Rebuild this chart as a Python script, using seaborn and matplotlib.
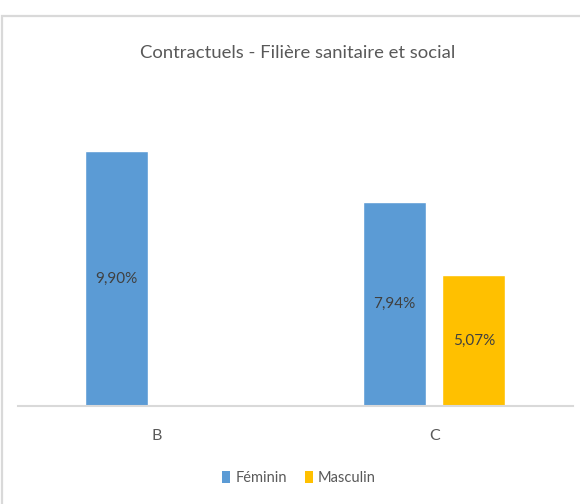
import matplotlib
matplotlib.use("Agg")
import matplotlib.pyplot as plt
from matplotlib.patches import Rectangle
import pandas as pd
import seaborn as sns

# Data
grades = ["B", "C"]
sexes = ["Féminin", "Masculin"]
feminin = [9.90, 7.94]
masculin = [None, 5.07]
title = "Contractuels - Filière sanitaire et social"
colors = ["#5B9BD5", "#FFC000"]

rows = []
for g, f, m in zip(grades, feminin, masculin):
    rows.append({"grade": g, "sexe": sexes[0], "valeur": f})
    rows.append({"grade": g, "sexe": sexes[1], "valeur": m})
df = pd.DataFrame(rows)

sns.set_theme(style="white")
plt.rcParams["font.family"] = ["Lato", "DejaVu Sans"]

W, H = 580, 504
fig = plt.figure(figsize=(W / 100, H / 100), dpi=100)

# chart frame
fig.patches.append(Rectangle((1.5 / W, -0.1), 1.2, (H - 15.5) / H + 0.1,
                             transform=fig.transFigure, fill=False,
                             edgecolor="#D9D9D9", linewidth=1.6, zorder=0))

ax = fig.add_axes([17.75 / W, 98.5 / H, (573 - 17.75) / W, 308 / H])
sns.barplot(data=df, x="grade", y="valeur", hue="sexe", order=grades,
            hue_order=sexes, palette=colors, width=0.573, gap=0.208,
            saturation=1, ax=ax, legend=False, errorbar=None)

ax.set_ylim(0, 12)
ax.set_xlim(-0.5, 1.5)
ax.set_xlabel("")
ax.set_ylabel("")
ax.set_yticks([])
for side in ["left", "right", "top"]:
    ax.spines[side].set_visible(False)
ax.spines["bottom"].set_color("#D9D9D9")
ax.spines["bottom"].set_linewidth(1.5)
ax.tick_params(axis="x", length=0, pad=17, labelsize=11.5, labelcolor="#595959")
ax.patch.set_alpha(0)

# value labels centred inside each drawn bar
for cont in ax.containers:
    for bar, v in zip(cont.patches, cont.datavalues):
        if bar is None or v != v:
            continue
        ax.text(bar.get_x() + bar.get_width() / 2, v / 2,
                f"{v:.2f}".replace(".", ",") + "%",
                ha="center", va="center", fontsize=11, color="#404040")

fig.text(298 / W, (H - 58) / H, title, ha="center", va="baseline",
         fontsize=13.3, color="#595959")

handles = [Rectangle((0, 0), 1, 1, facecolor=c, edgecolor="none") for c in colors]
fig.legend(handles, sexes, loc="center", bbox_to_anchor=(299 / W, (H - 478) / H),
           ncol=2, frameon=False, fontsize=10.5, labelcolor="#595959",
           handlelength=0.55, handleheight=0.8, handletextpad=0.35,
           columnspacing=1.2)

fig.savefig("out.png", dpi=100)
